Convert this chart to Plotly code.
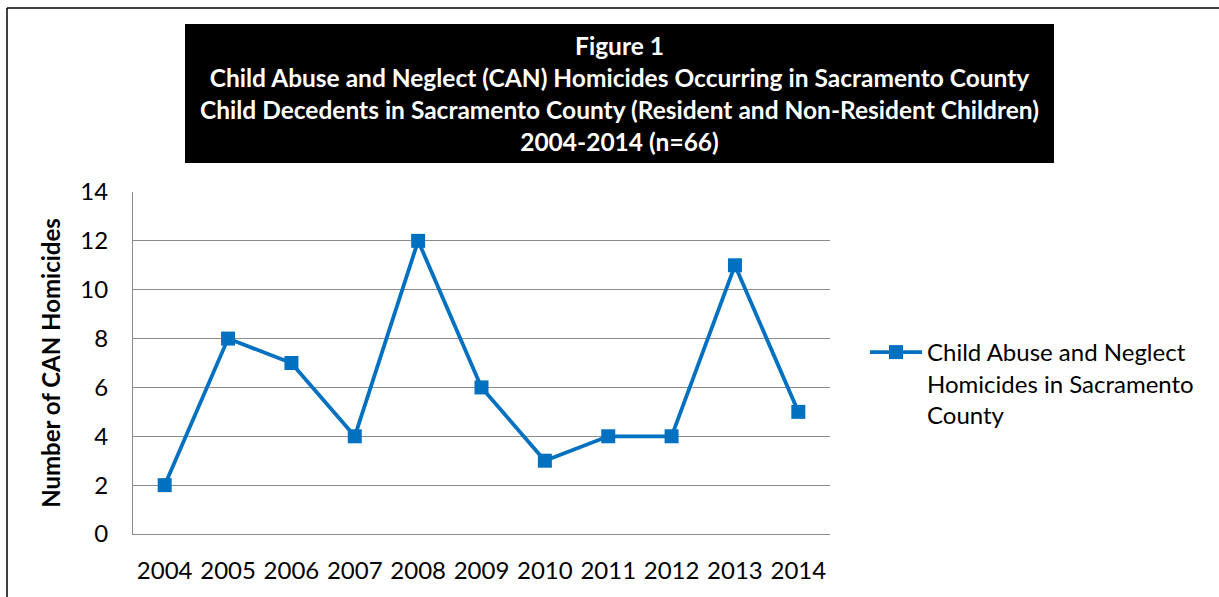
import plotly.graph_objects as go

years = ["2004", "2005", "2006", "2007", "2008", "2009", "2010", "2011", "2012", "2013", "2014"]
homicides = [2, 8, 7, 4, 12, 6, 3, 4, 4, 11, 5]
series_name = "Child Abuse and Neglect<br>Homicides in Sacramento<br>County"
title_lines = [
    "Figure 1",
    "Child Abuse and Neglect (CAN) Homicides Occurring in Sacramento County",
    "Child Decedents in Sacramento County (Resident and Non-Resident Children)",
    "2004-2014 (n=66)",
]
y_title = "Number of CAN Homicides"
y_ticks = [0, 2, 4, 6, 8, 10, 12, 14]

W, H = 1219, 597
L, R, T, B = 133, 830, 192, 534

def px(x):
    return (x - L) / (R - L)

def py(y):
    return (B - y) / (B - T)

FONT = "Lato, 'Open Sans', sans-serif"
BLUE = "#0070C0"
GRID = "#8C8C8C"

fig = go.Figure()
fig.add_trace(go.Scatter(
    x=years, y=homicides, mode="lines+markers", name=series_name,
    line=dict(color=BLUE, width=3.8),
    marker=dict(symbol="square", size=14, color=BLUE),
))

fig.update_layout(
    width=W, height=H,
    margin=dict(l=L, r=W - R, t=T, b=H - B, pad=0),
    paper_bgcolor="white", plot_bgcolor="white",
    font=dict(family=FONT, size=24, color="black"),
    showlegend=True,
    legend=dict(x=px(865), y=py(330), xanchor="left", yanchor="top",
                valign="top", itemwidth=52, tracegroupgap=0,
                font=dict(family=FONT, size=24, color="black"),
                bgcolor="rgba(0,0,0,0)"),
    xaxis=dict(type="category", range=[-0.5, 10.5], showgrid=False,
               showline=True, linecolor=GRID, linewidth=1, ticks="",
               ticklabelstandoff=15, tickfont=dict(size=24), fixedrange=True),
    yaxis=dict(range=[0, 14], tickvals=y_ticks, showgrid=True, gridcolor=GRID,
               gridwidth=1, showline=True, linecolor=GRID, linewidth=1,
               zeroline=False, ticks="", ticklabelstandoff=19,
               tickfont=dict(size=24), fixedrange=True,
               title=dict(text="<b>" + y_title + "</b>", standoff=12,
                          font=dict(size=24))),
    shapes=[
        dict(type="rect", xref="paper", yref="paper",
             x0=px(185), x1=px(1054), y0=py(163), y1=py(24),
             fillcolor="black", line=dict(width=0), layer="below"),
        dict(type="line", xref="paper", yref="paper",
             x0=px(7), x1=px(1225), y0=py(8), y1=py(8),
             line=dict(color="black", width=1.5)),
        dict(type="line", xref="paper", yref="paper",
             x0=px(7), x1=px(7), y0=py(8), y1=py(600),
             line=dict(color="black", width=1.5)),
    ],
    annotations=[
        dict(xref="paper", yref="paper", x=px(619.5), y=py(93.5),
             xanchor="center", yanchor="middle", showarrow=False,
             text="<br>".join("<b>" + s + "</b>" for s in title_lines),
             font=dict(family=FONT, size=24.5, color="white"), align="center"),
    ],
)

fig.write_html("out.html", config={"displayModeBar": False},
               post_script="document.body.style.margin='0';")
